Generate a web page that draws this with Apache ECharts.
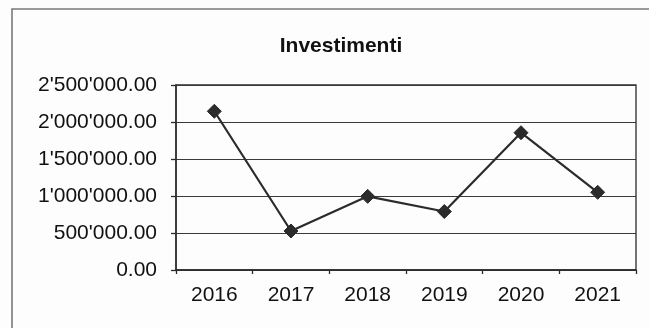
<!DOCTYPE html>
<html>
<head>
<meta charset="utf-8">
<script src="https://cdn.jsdelivr.net/npm/echarts@6/dist/echarts.min.js"></script>
<style>
  html, body { margin: 0; padding: 0; background: #fdfdfd; }
  #chart { width: 649px; height: 328px; }
</style>
</head>
<body>
<div id="chart"></div>
<script>
// Annual investment amounts
const years = ['2016', '2017', '2018', '2019', '2020', '2021'];
const investimenti = [2145000, 527000, 995000, 790000, 1855000, 1050000];
const yMin = 0;
const yMax = 2500000;
const yStep = 500000;

// Swiss-style number formatting: 2'500'000.00
function fmt(v) {
  const fixed = Number(v).toFixed(2);
  const [intPart, dec] = fixed.split('.');
  return intPart.replace(/\B(?=(\d{3})+(?!\d))/g, "'") + '.' + dec;
}

const ink = '#2b2b2b';
const textInk = '#111111';
const font = '"Liberation Sans", Arial, sans-serif';

const chart = echarts.init(document.getElementById('chart'), null, { renderer: 'canvas' });
chart.setOption({
  backgroundColor: '#fdfdfd',
  animation: false,
  title: {
    text: 'Investimenti',
    left: 336,
    textAlign: 'center',
    top: 31,
    textStyle: { fontFamily: font, fontSize: 21, fontWeight: 'bold', color: textInk }
  },
  graphic: [{
    type: 'polyline',
    shape: { points: [[12, 340], [12, 9], [660, 9]] },
    style: { stroke: '#7a7a7a', lineWidth: 1.6, fill: null },
    silent: true
  }],
  grid: { left: 176, right: 13, top: 85, bottom: 58, show: true, borderColor: ink, borderWidth: 1.3 },
  xAxis: {
    type: 'category',
    data: years,
    boundaryGap: true,
    axisLine: { lineStyle: { color: ink, width: 1.5 } },
    axisTick: { show: true, length: 4, lineStyle: { color: ink, width: 1.3 } },
    axisLabel: { fontFamily: font, fontSize: 21, color: textInk, margin: 15 },
    splitLine: { show: false }
  },
  yAxis: {
    type: 'value',
    min: yMin,
    max: yMax,
    interval: yStep,
    axisLine: { show: true, lineStyle: { color: ink, width: 1.5 } },
    axisTick: { show: true, length: 5, lineStyle: { color: ink, width: 1.3 } },
    axisLabel: { fontFamily: font, fontSize: 21, color: textInk, margin: 19, formatter: fmt },
    splitLine: { show: true, lineStyle: { color: '#3a3a3a', width: 1.2 } }
  },
  series: [{
    type: 'line',
    data: investimenti,
    symbol: 'diamond',
    symbolSize: 14,
    lineStyle: { color: ink, width: 2.2 },
    itemStyle: { color: ink, borderColor: ink },
    z: 5
  }]
});
</script>
</body>
</html>
